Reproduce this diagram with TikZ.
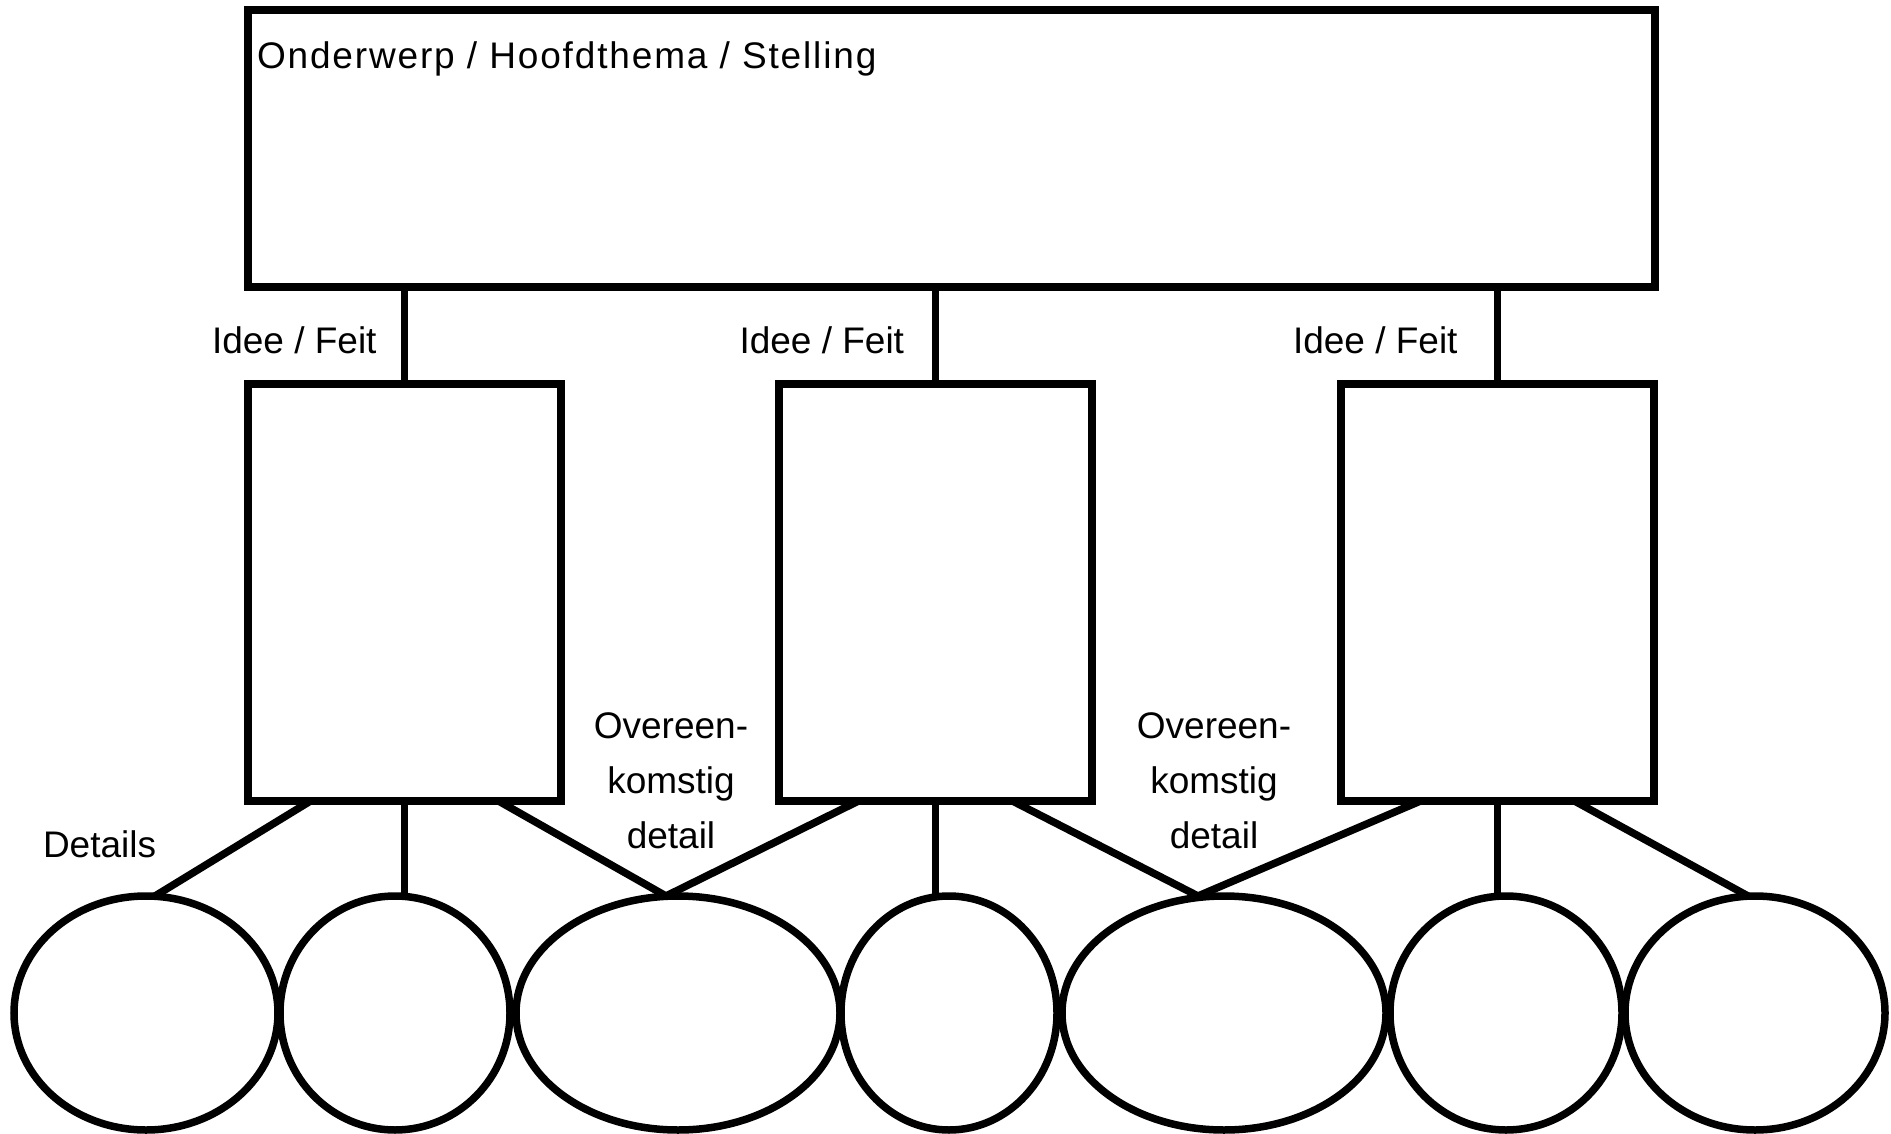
\documentclass[tikz,border=0pt]{standalone}
\usepackage{fontspec}
\setmainfont{Liberation Sans}
\newfontfamily\spacedfont[LetterSpace=5]{Liberation Sans}
\usetikzlibrary{shapes.geometric}
\begin{document}
\begin{tikzpicture}[x=1pt,y=-1pt,
  box/.style={draw,line width=7.5pt,rectangle,inner sep=0pt,outer sep=0pt,minimum width=313pt,minimum height=417pt},
  ell/.style={draw,line width=7.5pt,ellipse,inner sep=0pt,outer sep=0pt,minimum height=234pt},
  lab/.style={inner sep=0pt,outer sep=0pt,font=\fontsize{37}{55}\selectfont},
  conn/.style={line width=7.5pt}]
\useasboundingbox (0,0) rectangle (1891,1134);
% main box
\node[draw,line width=7.5pt,rectangle,inner sep=0pt,outer sep=0pt,minimum width=1407pt,minimum height=277pt] (top) at (951.5,148.5) {};
\node[lab,anchor=base west,font=\spacedfont\fontsize{37}{55}\selectfont] (toplab) at (257,68.5) {Onderwerp / Hoofdthema / Stelling};
% idea boxes
\node[box] (b1) at (404.5,592.5) {};
\node[box] (b2) at (935.5,592.5) {};
\node[box] (b3) at (1497.5,592.5) {};
\node[lab,anchor=base west] (i1) at (212,353.5) {Idee / Feit};
\node[lab,anchor=base west] (i2) at (739.5,353.5) {Idee / Feit};
\node[lab,anchor=base west] (i3) at (1293,353.5) {Idee / Feit};
% detail ellipses
\node[ell,minimum width=264pt] (e1) at (146,1013) {};
\node[ell,minimum width=230pt] (e2) at (395,1013) {};
\node[ell,minimum width=324pt] (e3) at (678,1013) {};
\node[ell,minimum width=216pt] (e4) at (949,1013) {};
\node[ell,minimum width=324pt] (e5) at (1224,1013) {};
\node[ell,minimum width=232pt] (e6) at (1506,1013) {};
\node[ell,minimum width=260pt] (e7) at (1755,1013) {};
% labels
\node[lab,anchor=base west] (det) at (43,857) {Details};
\node[lab,align=center] (ov1) at (671,781) {Overeen-\\komstig\\detail};
\node[lab,align=center] (ov2) at (1214,781) {Overeen-\\komstig\\detail};
% connectors top box -> idea boxes
\draw[conn] (top.south -| b1.north) -- (b1.north);
\draw[conn] (top.south -| b2.north) -- (b2.north);
\draw[conn] (top.south -| b3.north) -- (b3.north);
% idea boxes -> ellipses
\draw[conn] ([xshift=-94pt]b1.south) -- ([xshift=9pt]e1.north);
\draw[conn] (b1.south) -- (b1.south |- e2.north);
\draw[conn] ([xshift=94pt]b1.south) -- ([xshift=-12pt]e3.north);
\draw[conn] ([xshift=-77pt]b2.south) -- ([xshift=-12pt]e3.north);
\draw[conn] (b2.south) -- (b2.south |- e4.north);
\draw[conn] ([xshift=77pt]b2.south) -- ([xshift=-26pt]e5.north);
\draw[conn] ([xshift=-77pt]b3.south) -- ([xshift=-26pt]e5.north);
\draw[conn] (b3.south) -- (b3.south |- e6.north);
\draw[conn] ([xshift=77pt]b3.south) -- ([xshift=-7pt]e7.north);
\end{tikzpicture}
\end{document}
